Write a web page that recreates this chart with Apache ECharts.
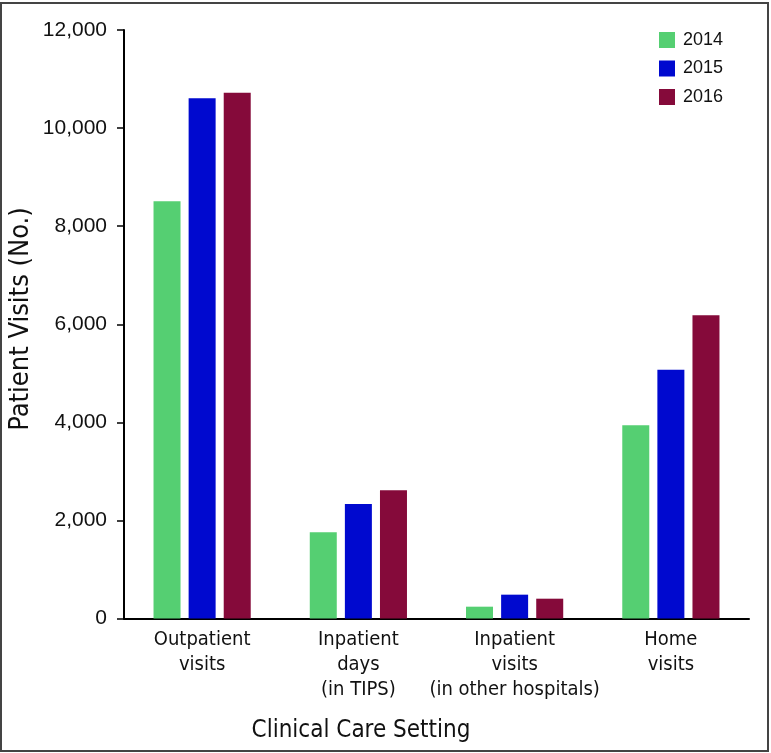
<!DOCTYPE html>
<html>
<head>
<meta charset="utf-8">
<script src="https://cdn.jsdelivr.net/npm/echarts@6/dist/echarts.min.js"></script>
<style>
html,body{margin:0;padding:0;background:#fff;}
#c{width:771px;height:753px;}
</style>
</head>
<body>
<div id="c"></div>
<script>
const categories = ['Outpatient\nvisits', 'Inpatient\ndays\n(in TIPS)', 'Inpatient\nvisits\n(in other hospitals)', 'Home\nvisits'];
const years = ['2014', '2015', '2016'];
const values2014 = [8510, 1757, 241, 3940];
const values2015 = [10610, 2335, 486, 5074];
const values2016 = [10720, 2614, 404, 6183];
const yTicks = { min: 0, max: 12000, interval: 2000 };
const colors = ['#55CF72', '#0009CF', '#850A3A'];

const narrow = '"Liberation Sans Narrow", "DejaVu Sans Condensed", "Liberation Sans", sans-serif';
const regular = '"Liberation Sans", Arial, sans-serif';

const chart = echarts.init(document.getElementById('c'), null, { renderer: 'canvas' });
const seriesData = [values2014, values2015, values2016];
chart.setOption({
  animation: false,
  backgroundColor: '#fff',
  color: colors,
  grid: { left: 124, right: 22, top: 30, bottom: 134.5 },
  legend: {
    orient: 'vertical',
    left: 659, top: 31, padding: 0,
    itemWidth: 16, itemHeight: 16, itemGap: 10.5,
    icon: 'rect',
    textStyle: { fontFamily: regular, fontSize: 18, color: '#111', padding: [0, 0, 0, 3] },
    data: years
  },
  xAxis: {
    type: 'category',
    data: categories,
    axisLine: { lineStyle: { color: '#000', width: 2 } },
    axisTick: { show: false },
    axisLabel: {
      fontFamily: narrow, fontSize: 20, color: '#111', lineHeight: 25,
      margin: 9, interval: 0, verticalAlign: 'top'
    }
  },
  yAxis: {
    type: 'value',
    min: yTicks.min, max: yTicks.max, interval: yTicks.interval,
    axisLine: { show: true, lineStyle: { color: '#000', width: 2 } },
    axisTick: { show: true, length: 7, lineStyle: { color: '#000', width: 1.5 } },
    splitLine: { show: false },
    axisLabel: {
      fontFamily: regular, fontSize: 21, color: '#111', margin: 17,
      formatter: v => v.toLocaleString('en-US')
    }
  },
  series: years.map((y, i) => ({
    name: y,
    type: 'bar',
    data: seriesData[i],
    barWidth: 27,
    barGap: '30%'
  })),
  graphic: [
    { type: 'rect', shape: { x: 1, y: 3, width: 767, height: 748 }, style: { fill: 'none', stroke: '#444', lineWidth: 2 }, z: 100 },
    { type: 'text', x: 21, y: 319, rotation: Math.PI / 2,
      style: { text: 'Patient Visits (No.)', font: '27px ' + narrow, fill: '#111', align: 'center', verticalAlign: 'middle' } },
    { type: 'text', x: 361, y: 731,
      style: { text: 'Clinical Care Setting', font: '24px ' + narrow, fill: '#111', align: 'center', verticalAlign: 'middle' } }
  ]
});
</script>
</body>
</html>
